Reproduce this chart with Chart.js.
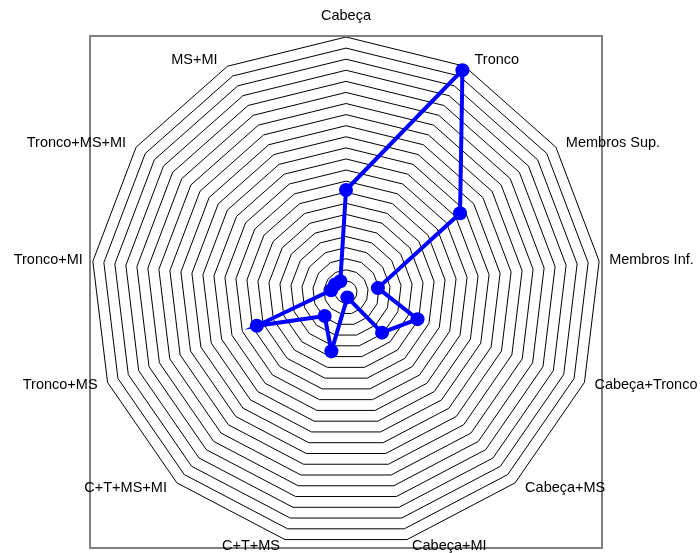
<!DOCTYPE html>
<html>
<head>
<meta charset="utf-8">
<script src="https://cdn.jsdelivr.net/npm/chart.js@4/dist/chart.umd.min.js"></script>
<style>
  html, body { margin: 0; padding: 0; background: #ffffff; }
  #wrap { width: 700px; height: 553px; }
</style>
</head>
<body>
<div id="wrap"><canvas id="c" width="700" height="553"></canvas></div>
<script>
const categories = ["Cabeça", "Tronco", "Membros Sup.", "Membros Inf.", "Cabeça+Tronco", "Cabeça+MS",
  "Cabeça+MI", "C+T+MS", "C+T+MS+MI", "Tronco+MS", "Tronco+MI", "Tronco+MS+MI", "MS+MI"];
const values = [9.2, 22.6, 12.5, 2.9, 6.9, 4.9, 0.5, 5.5, 2.9, 8.6, 1.35, 1.2, 1.1];
const scaleMin = 0;
const scaleMax = 23;
const scaleStep = 1;

const FONT = '14.5px "Liberation Sans", Arial, sans-serif';

const framePlugin = {
  id: 'frame',
  afterDraw(chart) {
    const ctx = chart.ctx;
    const a = chart.chartArea;
    ctx.save();
    ctx.strokeStyle = '#808080';
    ctx.lineWidth = 2;
    ctx.strokeRect(a.left - 1, a.top - 1, (a.right - a.left) + 2, (a.bottom - a.top) + 2);
    ctx.restore();
  }
};

const labelPlugin = {
  id: 'outerLabels',
  afterDraw(chart) {
    const scale = chart.scales.r;
    const ctx = chart.ctx;
    const R = scale.drawingArea;
    const n = categories.length;
    ctx.save();
    ctx.font = FONT;
    ctx.fillStyle = '#000000';
    ctx.textBaseline = 'middle';
    for (let i = 0; i < n; i++) {
      const ang = i * 2 * Math.PI / n;
      const s = Math.sin(ang), c = Math.cos(ang);
      const vertex = scale.getPointPosition(i, R);
      if (Math.abs(s) < 0.01) {
        ctx.textAlign = 'center';
        const p = scale.getPointPosition(i, R + 22);
        ctx.fillText(categories[i], p.x, p.y + 1);
        continue;
      }
      const p = scale.getPointPosition(i, R + 7);
      const off = (c < -0.95) ? 5 : 10;
      if (s > 0) {
        ctx.textAlign = 'left';
        ctx.fillText(categories[i], vertex.x + off, p.y);
      } else {
        ctx.textAlign = 'right';
        ctx.fillText(categories[i], vertex.x - off, p.y);
      }
    }
    ctx.restore();
  }
};

new Chart(document.getElementById('c'), {
  type: 'radar',
  data: {
    labels: categories,
    datasets: [{
      data: values,
      borderColor: '#0000ff',
      backgroundColor: 'rgba(0,0,0,0)',
      borderWidth: 4,
      pointRadius: 7,
      pointBackgroundColor: '#0000ff',
      pointBorderColor: '#0000ff',
      pointBorderWidth: 0,
      fill: false,
      tension: 0
    }]
  },
  options: {
    responsive: false,
    animation: false,
    devicePixelRatio: 1,
    layout: { padding: { left: 91, top: 37, right: 99, bottom: 6 } },
    plugins: { legend: { display: false }, tooltip: { enabled: false } },
    scales: {
      r: {
        min: scaleMin,
        max: scaleMax,
        ticks: { display: false, stepSize: scaleStep },
        grid: { color: '#000000', lineWidth: 1, circular: false },
        angleLines: { display: false },
        pointLabels: { display: false }
      }
    }
  },
  plugins: [framePlugin, labelPlugin]
});
</script>
</body>
</html>
